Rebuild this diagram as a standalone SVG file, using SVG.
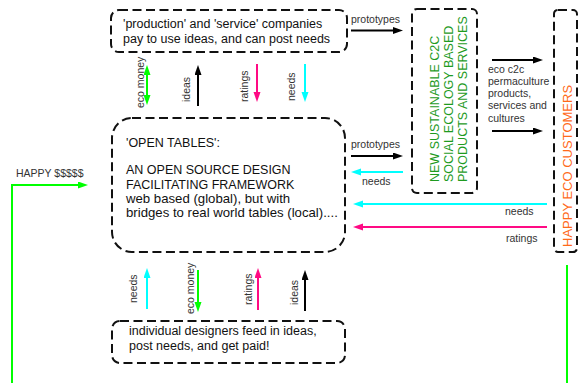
<svg xmlns="http://www.w3.org/2000/svg" width="578" height="383" viewBox="0 0 578 383">
  <style>
    .box { fill: #fff; stroke: #111; stroke-width: 2; stroke-dasharray: 9 4.5; }
    .txt { font-family: "Liberation Sans", Arial, sans-serif; font-size: 12.5px; fill: #111; }
    .big { font-size: 13.2px; }
    .lbl { font-family: "Liberation Sans", Arial, sans-serif; font-size: 10.5px; fill: #333; }
    .green { fill: #1f9b1f; }
    .orange { fill: #ff6a1a; font-size: 13px; }
    .ln { fill: none; stroke-width: 2; }
    .k { stroke: #000; }
    .c { stroke: #00ffff; }
    .m { stroke: #ff0a84; }
    .g { stroke: #00ff00; }
  </style>
  <defs>
    <marker id="ak" markerUnits="userSpaceOnUse" markerWidth="10" markerHeight="8" refX="2" refY="3.5" orient="auto-start-reverse"><path d="M0,0 L10,3.5 L0,7 z" fill="#000"/></marker>
    <marker id="ac" markerUnits="userSpaceOnUse" markerWidth="10" markerHeight="8" refX="2" refY="3.5" orient="auto-start-reverse"><path d="M0,0 L10,3.5 L0,7 z" fill="#00ffff"/></marker>
    <marker id="am" markerUnits="userSpaceOnUse" markerWidth="10" markerHeight="8" refX="2" refY="3.5" orient="auto-start-reverse"><path d="M0,0 L10,3.5 L0,7 z" fill="#ff0a84"/></marker>
    <marker id="ag" markerUnits="userSpaceOnUse" markerWidth="10" markerHeight="8" refX="2" refY="3.5" orient="auto-start-reverse"><path d="M0,0 L10,3.5 L0,7 z" fill="#00ff00"/></marker>
  </defs>
  <rect width="578" height="383" fill="#fff"/>

  <g id="companies">
    <rect class="box" x="111" y="10" width="236" height="42" rx="8"/>
    <text class="txt" x="123" y="28">'production' and 'service' companies</text>
    <text class="txt" x="123" y="43">pay to use ideas, and can post needs</text>
  </g>

  <g id="open-tables">
    <rect class="box" x="112" y="118" width="233" height="134" rx="20"/>
    <text class="txt" x="126" y="147">'OPEN TABLES':</text>
    <text class="txt" x="126" y="174">AN OPEN SOURCE DESIGN</text>
    <text class="txt" x="126" y="189">FACILITATING FRAMEWORK</text>
    <text class="txt big" x="126" y="203">web based (global), but with</text>
    <text class="txt big" x="126" y="217">bridges to real world tables (local)....</text>
  </g>

  <g id="designers">
    <rect class="box" x="112" y="321" width="233" height="42" rx="8"/>
    <text class="txt" x="129" y="335">individual designers feed in ideas,</text>
    <text class="txt" x="129" y="350">post needs, and get paid!</text>
  </g>

  <g id="c2c-products">
    <rect class="box" x="412" y="9" width="65" height="184" rx="5"/>
    <text class="txt green" transform="translate(439,182) rotate(-90)">NEW SUSTAINABLE C2C</text>
    <text class="txt green" transform="translate(453,182) rotate(-90)">SOCIAL ECOLOGY BASED</text>
    <text class="txt green" transform="translate(467,182) rotate(-90)">PRODUCTS AND SERVICES</text>
  </g>

  <g id="customers">
    <rect class="box" x="554" y="10" width="23" height="242" rx="4"/>
    <text class="txt orange" transform="translate(572,247) rotate(-90)">HAPPY ECO CUSTOMERS</text>
  </g>

  <g id="connectors">
    <!-- companies <-> open tables -->
    <line class="ln g" x1="147" y1="73" x2="147" y2="97" marker-start="url(#ag)" marker-end="url(#ag)"/>
    <text class="lbl" transform="translate(144,108) rotate(-90)">eco money</text>
    <line class="ln k" x1="198" y1="106" x2="198" y2="73" marker-end="url(#ak)"/>
    <text class="lbl" transform="translate(190,102) rotate(-90)">ideas</text>
    <line class="ln m" x1="257" y1="64" x2="257" y2="94" marker-end="url(#am)"/>
    <text class="lbl" transform="translate(248,102) rotate(-90)">ratings</text>
    <line class="ln c" x1="305" y1="64" x2="305" y2="94" marker-end="url(#ac)"/>
    <text class="lbl" transform="translate(295,101) rotate(-90)">needs</text>

    <!-- designers <-> open tables -->
    <line class="ln c" x1="147" y1="309" x2="147" y2="276" marker-end="url(#ac)"/>
    <text class="lbl" transform="translate(137,303) rotate(-90)">needs</text>
    <line class="ln g" x1="198" y1="270" x2="198" y2="304" marker-end="url(#ag)"/>
    <text class="lbl" transform="translate(194,314) rotate(-90)">eco money</text>
    <line class="ln m" x1="258" y1="310" x2="258" y2="276" marker-end="url(#am)"/>
    <text class="lbl" transform="translate(252,305) rotate(-90)">ratings</text>
    <line class="ln k" x1="305" y1="311" x2="305" y2="278" marker-end="url(#ak)"/>
    <text class="lbl" transform="translate(298,305) rotate(-90)">ideas</text>

    <!-- prototypes to products -->
    <text class="lbl" x="351" y="23">prototypes</text>
    <line class="ln k" x1="351" y1="30.5" x2="395" y2="30.5" marker-end="url(#ak)"/>
    <text class="lbl" x="351" y="148">prototypes</text>
    <line class="ln k" x1="351" y1="156" x2="395" y2="156" marker-end="url(#ak)"/>
    <line class="ln c" x1="403" y1="172" x2="359" y2="172" marker-end="url(#ac)"/>
    <text class="lbl" x="362" y="185">needs</text>

    <!-- products to customers -->
    <line class="ln k" x1="492" y1="60" x2="535" y2="60" marker-end="url(#ak)"/>
    <line class="ln k" x1="492" y1="131" x2="535" y2="131" marker-end="url(#ak)"/>
    <text class="lbl" x="488" y="73">eco c2c</text>
    <text class="lbl" x="488" y="85">permaculture</text>
    <text class="lbl" x="488" y="97">products,</text>
    <text class="lbl" x="488" y="109">services and</text>
    <text class="lbl" x="488" y="122">cultures</text>

    <!-- customers feedback -->
    <line class="ln c" x1="547" y1="204" x2="361" y2="204" marker-end="url(#ac)"/>
    <text class="lbl" x="505" y="215">needs</text>
    <line class="ln m" x1="547" y1="227" x2="361" y2="227" marker-end="url(#am)"/>
    <text class="lbl" x="506" y="242">ratings</text>

    <!-- money loop -->
    <line class="ln g" x1="567" y1="265" x2="567" y2="383"/>
    <polyline class="ln g" points="12,383 12,185 80,185" marker-end="url(#ag)"/>
    <text class="lbl" x="16" y="177">HAPPY $$$$$</text>
  </g>
</svg>
